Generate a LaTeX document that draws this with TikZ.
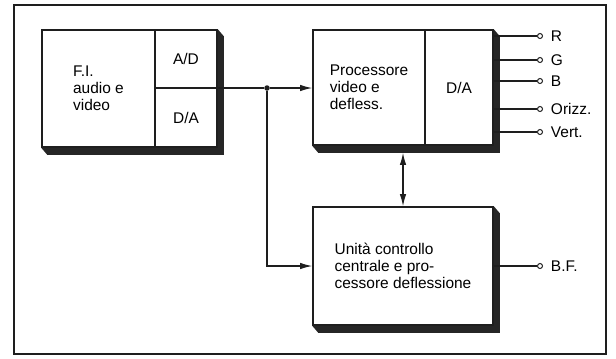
\documentclass[tikz,border=0pt]{standalone}
\usepackage{fontspec}
\setsansfont{Liberation Sans}
\usetikzlibrary{arrows.meta}
\definecolor{ink}{HTML}{1E1E1E}
\definecolor{shadowgray}{HTML}{262626}
\def\px{0.025cm}
% L-shaped drop shadow with bevelled ends under a block
\newcommand{\blockshadow}[1]{%
  \fill[shadowgray] (#1.north east) -- ++(6,7) -- ([shift={(6,7)}]#1.south east)
    -- ([shift={(6,7)}]#1.south west) -- (#1.south west) -- (#1.south east) -- cycle;}
\tikzset{
  font=\sffamily\fontsize{11}{12}\selectfont,
  block/.style={draw=ink, line width=1.1pt, fill=white, inner sep=0pt, align=left},
  cell/.style={draw=ink, line width=1.1pt, inner sep=0pt, align=left},
  wire/.style={draw=ink, line width=0.8pt},
  arrow/.style={wire, -{Latex[length=3mm,width=1.6mm]}},
  dot/.style={circle, fill=ink, inner sep=0pt, minimum size=5.5*\px},
  terminal/.style={circle, draw=ink, fill=white, line width=0.7pt, inner sep=0pt, minimum size=5*\px},
  frame/.style={draw=ink, line width=1.4pt},
}
\begin{document}
\begin{tikzpicture}[x=\px, y=-\px]
\useasboundingbox (0,0) rectangle (616,358);
\draw[frame] (14,5) rectangle (606,354);
% --- IF block with converters
\node[block, minimum width=175*\px, minimum height=117*\px] (ifblk) at (129.5,88.5) {};
\node[cell, minimum width=113*\px, minimum height=117*\px] (fi) at (98.5,88.5) {F.I.\\audio e\\video};
\node[cell, align=center, minimum width=62*\px, minimum height=58*\px] (ad) at (186,59) {A/D};
\node[cell, align=center, minimum width=62*\px, minimum height=59*\px] (da) at (186,117.5) {D/A};
\blockshadow{ifblk}
% --- video / deflection processor
\node[block, minimum width=180*\px, minimum height=115*\px] (procblk) at (403,87.5) {};
\node[cell, minimum width=112*\px, minimum height=115*\px] (proc) at (369,87.5) {Processore\\video e\\defless.};
\node[cell, align=center, minimum width=68*\px, minimum height=115*\px] (pda) at (459,87.5) {D/A};
\blockshadow{procblk}
% --- central control unit
\node[block, minimum width=180*\px, minimum height=118*\px] (ctrl) at (403,266) {Unità controllo\\centrale e pro-\\cessore deflessione};
\blockshadow{ctrl}
% --- connections
\node[dot] (jn) at (267,88) {};
\draw[arrow] (ifblk.east |- jn) -- (jn) -- (proc.west |- jn);
\draw[arrow] (jn) |- (ctrl.west);
\draw[wire, {Latex[length=3mm,width=1.6mm]}-{Latex[length=3mm,width=1.6mm]}] ([yshift=-7*\px]procblk.south) -- (ctrl.north);
% --- outputs
\foreach \name/\y/\txt in {r/36/R, g/60/G, b/81/B, hor/109/Orizz., ver/132/Vert.} {
  \node[terminal, label={[label distance=3*\px]right:\txt}] (\name) at (540,\y) {};
  \draw[wire] (procblk.east |- \name) -- (\name);
}
\node[terminal, label={[label distance=3*\px]right:B.F.}] (bf) at (540,266) {};
\draw[wire] (ctrl) -- (bf);
\end{tikzpicture}
\end{document}
